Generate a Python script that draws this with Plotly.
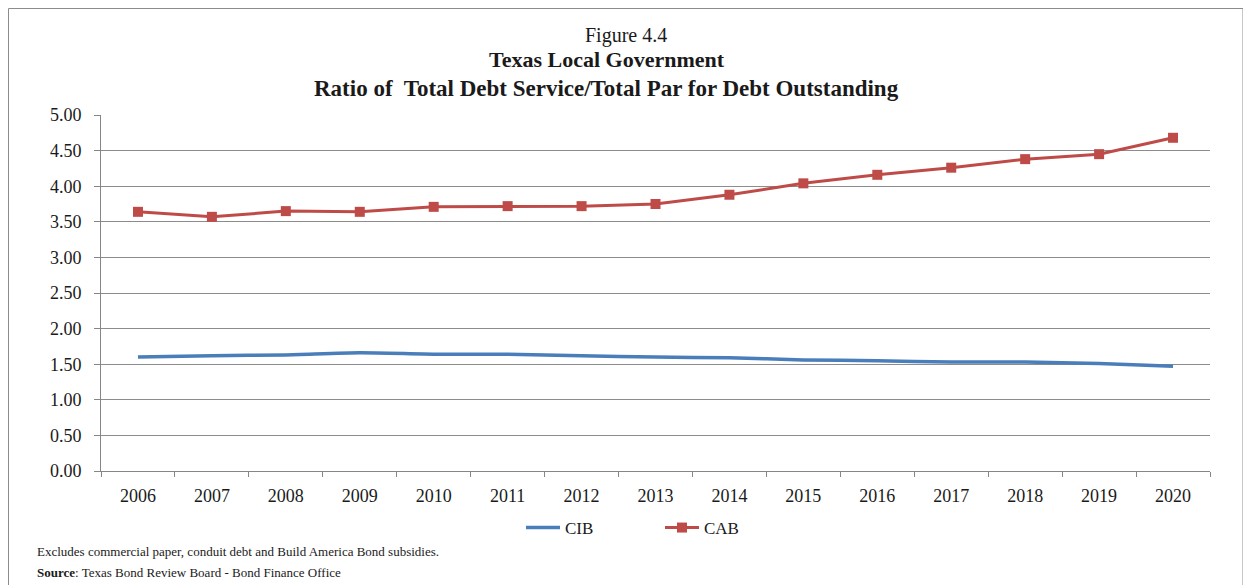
import plotly.graph_objects as go

years = [str(y) for y in range(2006, 2021)]
cib = [1.60, 1.62, 1.63, 1.66, 1.64, 1.64, 1.62, 1.60, 1.59, 1.56, 1.55, 1.53, 1.53, 1.51, 1.47]
cab = [3.64, 3.57, 3.65, 3.64, 3.71, 3.72, 3.72, 3.75, 3.88, 4.04, 4.16, 4.26, 4.38, 4.45, 4.68]
y_ticks = [0, 0.5, 1, 1.5, 2, 2.5, 3, 3.5, 4, 4.5, 5]

FONT = "Liberation Serif"

fig = go.Figure()
fig.add_trace(go.Scatter(
    x=years, y=cib, name="CIB", mode="lines",
    line=dict(color="#4a7ebb", width=3.5, shape="spline", smoothing=0.6),
))
fig.add_trace(go.Scatter(
    x=years, y=cab, name="CAB", mode="lines+markers",
    line=dict(color="#be4b48", width=3),
    marker=dict(symbol="square", size=10, color="#be4b48"),
))

# page is offset by 8px body margin; work in reference pixel coordinates
OFF = 8
W, H = 1251 - OFF, 585 - OFF
PL, PR, PT, PB = 101, 1210, 115, 471  # plot area in reference pixels
L, R, T, B = PL - OFF, W - (PR - OFF), PT - OFF, H - (PB - OFF)
pw, ph = W - L - R, H - T - B

def px(x):
    return (x - OFF - L) / pw

def py(y):
    return (H - B - (y - OFF)) / ph

fig.update_layout(
    width=W, height=H,
    margin=dict(l=L, r=R, t=T, b=B),
    paper_bgcolor="white", plot_bgcolor="white",
    font=dict(family=FONT, size=17, color="#1a1a1a"),
    showlegend=True,
    legend=dict(orientation="h", x=px(521), xanchor="left", y=py(528), yanchor="middle",
                font=dict(family=FONT, size=17), itemwidth=34, entrywidth=90,
                entrywidthmode="pixels", tracegroupgap=0),
    xaxis=dict(type="category", range=[-0.5, 14.5], showgrid=False, showline=True,
               linecolor="#868686", linewidth=1,
               ticks="outside", tickson="boundaries", ticklen=5, tickcolor="#868686",
               ticklabelstandoff=8,
               tickfont=dict(family=FONT, size=18), fixedrange=True),
    yaxis=dict(range=[0, 5], tickvals=y_ticks, tickformat=".2f", showgrid=True,
               gridcolor="#8c8c8c", gridwidth=1, showline=True, linecolor="#868686",
               ticks="outside", ticklen=6, tickcolor="#868686", zeroline=False,
               ticklabelstandoff=9,
               tickfont=dict(family=FONT, size=18), fixedrange=True),
    annotations=[
        dict(text="Figure 4.4", x=px(626), y=py(36), xref="paper", yref="paper", showarrow=False,
             font=dict(family=FONT, size=20), xanchor="center", yanchor="middle"),
        dict(text="<b>Texas Local Government</b>", x=px(607), y=py(60), xref="paper", yref="paper",
             showarrow=False, font=dict(family=FONT, size=22), xanchor="center", yanchor="middle"),
        dict(text="<b>Ratio of  Total Debt Service/Total Par for Debt Outstanding</b>", x=px(606), y=py(88),
             xref="paper", yref="paper", showarrow=False, font=dict(family=FONT, size=23),
             xanchor="center", yanchor="middle"),
        dict(text="Excludes commercial paper, conduit debt and Build America Bond subsidies.",
             x=px(35), y=py(551), xref="paper", yref="paper", showarrow=False,
             font=dict(family=FONT, size=13), xanchor="left", yanchor="middle"),
        dict(text="<b>Source</b>: Texas Bond Review Board - Bond Finance Office",
             x=px(35), y=py(572), xref="paper", yref="paper", showarrow=False,
             font=dict(family=FONT, size=13), xanchor="left", yanchor="middle"),
    ],
    shapes=[
        dict(type="rect", xref="paper", yref="paper", x0=px(8.5), x1=px(1243), y0=py(600), y1=py(8.5),
             line=dict(color="#8c8c8c", width=1), fillcolor="rgba(0,0,0,0)", layer="below"),
    ],
)

fig.write_html("out.html")
